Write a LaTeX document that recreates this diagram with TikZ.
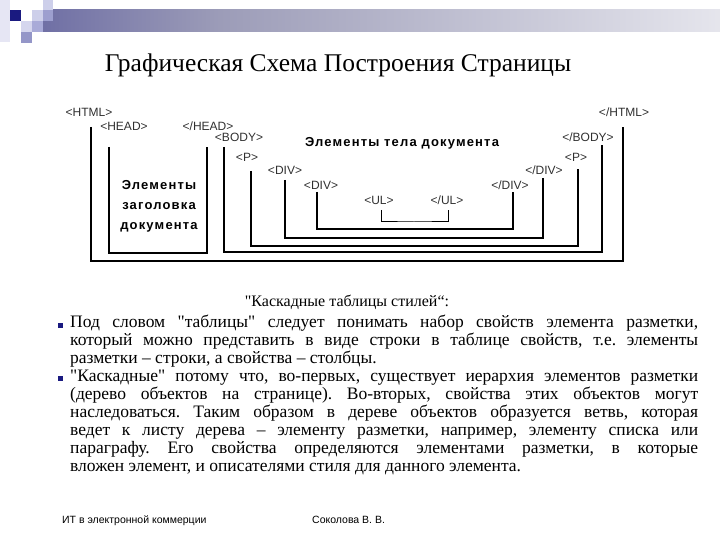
\documentclass[tikz,border=0pt]{standalone}
\usepackage{fontspec}
\setmainfont{Liberation Serif}
\setsansfont{Liberation Sans}
\newfontfamily\bodyfont{Liberation Serif}
\newfontfamily\tagfont{Liberation Sans}
\newfontfamily\boldsans{Liberation Sans Bold}[LetterSpace=9]
\definecolor{navy}{HTML}{1A1A80}
\definecolor{midg}{HTML}{9C9CB8}
\definecolor{lav1}{HTML}{CDCFEA}
\definecolor{lav2}{HTML}{9D9FCF}
\definecolor{lav3}{HTML}{D5D6EE}
\definecolor{lav4}{HTML}{A9ABD8}
\definecolor{lav5}{HTML}{9496C8}
\definecolor{lav6}{HTML}{E6E6F4}
\definecolor{tagc}{HTML}{303030}
\pgfdeclarehorizontalshading{barshade}{100bp}{color(0bp)=(navy); color(38bp)=(midg); color(88bp)=(white); color(100bp)=(white)}
\begin{document}
\begin{tikzpicture}[x=1pt,y=-1pt,
  tag/.style={font=\tagfont\fontsize{12}{14}\selectfont, text=tagc, inner sep=0},
  bsans/.style={font=\boldsans\fontsize{13}{20}\selectfont, inner sep=0, align=center},
  thickline/.style={line width=2.6pt},
  thinline/.style={line width=1.3pt},
  bullet/.style={fill=navy, minimum size=5pt, inner sep=0},
  foot/.style={font=\sffamily\fontsize{10.5}{12}\selectfont, inner sep=0, anchor=base west}]
\useasboundingbox (0,0) rectangle (720,540);
% decoration
\fill[lav6] (0,0) rectangle (10,42);
\shade[shading=barshade] (43,10) rectangle (720,32);
\fill[navy] (10,10) rectangle (21,21);
\fill[lav1] (32,10) rectangle (43,21);
\fill[lav1] (43,0) rectangle (53,10);
\fill[lav2] (43,10) rectangle (53,21);
\fill[lav3] (21,21) rectangle (32,32);
\fill[lav4] (32,21) rectangle (43,32);
\fill[lav5] (21,32) rectangle (32,43);
% title
\node[font=\bodyfont\fontsize{25.5}{28}\selectfont, inner sep=0] (title) at (338,65) {Графическая Схема Построения Страницы};
% tags
\node[tag] (html) at (89,112) {<HTML>};
\node[tag] (chtml) at (624,112) {</HTML>};
\node[tag] (head) at (124,126) {<HEAD>};
\node[tag] (chead) at (208,126) {</HEAD>};
\node[tag] (body) at (239,137) {<BODY>};
\node[tag] (cbody) at (588,137) {</BODY>};
\node[tag] (p) at (247,157) {<P>};
\node[tag] (cp) at (576,157) {<P>};
\node[tag] (div1) at (285,170) {<DIV>};
\node[tag] (cdiv1) at (544,170) {</DIV>};
\node[tag] (div2) at (321,185) {<DIV>};
\node[tag] (cdiv2) at (510,185) {</DIV>};
\node[tag] (ul) at (379,200) {<UL>};
\node[tag] (cul) at (447,200) {</UL>};
\node[bsans] (bodytxt) at (402,143) {Элементы тела документа};
\node[bsans] (headtxt) at (159,206) {Элементы\\заголовка\\документа};
% brackets
\coordinate (htmlL) at (91,127);
\coordinate (htmlR) at (623,127);
\coordinate (htmlB) at (357,261);
\draw[thickline] (htmlL) |- (htmlB) -| (htmlR);
\coordinate (headL) at (109,147);
\coordinate (headR) at (207,147);
\coordinate (headB) at (158,253);
\draw[thinline] (headL) |- (headB) -| (headR);
\coordinate (bodyL) at (224,147);
\coordinate (bodyR) at (602,145);
\coordinate (bodyB) at (413,252);
\draw[thinline] (bodyL) |- (bodyB) -| (bodyR);
\coordinate (pL) at (251,171);
\coordinate (pR) at (578,169);
\coordinate (pB) at (414,246);
\draw[line width=2pt] (pL) |- (pB) -| (pR);
\coordinate (d1L) at (285,180);
\coordinate (d1R) at (543,178);
\coordinate (d1B) at (414,238);
\draw[thinline] (d1L) |- (d1B) -| (d1R);
\coordinate (d2L) at (317,192);
\coordinate (d2R) at (513,192);
\coordinate (d2B) at (415,229);
\draw[line width=2pt] (d2L) |- (d2B) -| (d2R);
\coordinate (ulL) at (381,210);
\coordinate (ulR) at (448,210);
\coordinate (ulB) at (414,222);
\draw[line width=1pt] (ulL) |- (ulB) -| (ulR);
% text block
\node[inner sep=0, font=\bodyfont\fontsize{16}{18}\selectfont] (hdr) at (347,302) {"Каскадные таблицы стилей“:};
\node[bullet] (b1) at (60,325) {};
\node[bullet] (b2) at (60,378) {};
\node[anchor=north west, inner sep=0, text width=628pt, align=justify,
      font=\bodyfont\fontsize{17.5}{18}\selectfont\frenchspacing] (txt) at (70,315) {%
Под словом "таблицы" следует понимать набор свойств элемента разметки,\linebreak
который можно представить в виде строки в таблице свойств, т.е. элементы\linebreak
разметки – строки, а свойства – столбцы.\par
"Каскадные" потому что, во-первых, существует иерархия элементов разметки\linebreak
(дерево объектов на странице). Во-вторых, свойства этих объектов могут\linebreak
наследоваться. Таким образом в дереве объектов образуется ветвь, которая\linebreak
ведет к листу дерева – элементу разметки, например, элементу списка или\linebreak
параграфу. Его свойства определяются элементами разметки, в которые\linebreak
вложен элемент, и описателями стиля для данного элемента.};
% footer
\node[foot] (f1) at (62,523) {ИТ в электронной коммерции};
\node[foot] (f2) at (312,523) {Соколова В. В.};
\end{tikzpicture}
\end{document}
